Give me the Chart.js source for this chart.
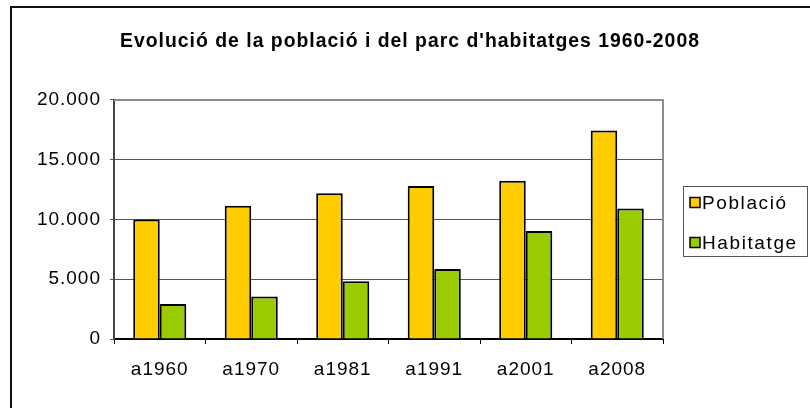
<!DOCTYPE html>
<html>
<head>
<meta charset="utf-8">
<script src="https://cdn.jsdelivr.net/npm/chart.js@4/dist/chart.umd.min.js"></script>
<style>
  html, body { margin: 0; padding: 0; background: #fff; }
  #wrap { width: 810px; height: 408px; position: relative; }
</style>
</head>
<body>
<div id="wrap"><canvas id="c" width="810" height="408"></canvas></div>
<script>
const categories = ['a1960', 'a1970', 'a1981', 'a1991', 'a2001', 'a2008'];
const poblacio = [10000, 11150, 12200, 12800, 13250, 17450];
const habitatge = [2930, 3550, 4830, 5860, 9040, 10930];
const seriesNames = ['Població', 'Habitatge'];
const titleText = "Evolució de la població i del parc d'habitatges 1960-2008";
const yTicks = [0, 5000, 10000, 15000, 20000];

const FONT = 'Arial, "Liberation Sans", sans-serif';
const SPACING = '1px';

function fmt(v) {
  return String(v).replace(/\B(?=(\d{3})+(?!\d))/g, '.');
}

const framePlugin = {
  id: 'framePlugin',
  beforeUpdate(chart) { chart.ctx.letterSpacing = SPACING; },
  beforeLayout(chart) { chart.ctx.letterSpacing = SPACING; },
  beforeDraw(chart) { chart.ctx.letterSpacing = SPACING; },
  beforeDatasetsDraw(chart) {
    const { ctx, chartArea: a } = chart;
    ctx.save();
    ctx.strokeStyle = '#8c8c8c';
    ctx.lineWidth = 2;
    ctx.beginPath();
    ctx.moveTo(a.left, a.top);
    ctx.lineTo(a.right, a.top);
    ctx.lineTo(a.right, a.bottom);
    ctx.stroke();
    ctx.restore();
  },
  afterDraw(chart) {
    const { ctx } = chart;
    ctx.save();
    ctx.fillStyle = '#111';
    ctx.fillRect(10, 6, 800, 2);
    ctx.fillRect(10, 6, 2, 402);
    const lx = 683, ly = 186, lw = 124, lh = 70;
    ctx.strokeStyle = '#555';
    ctx.lineWidth = 1;
    ctx.strokeRect(lx + 0.5, ly + 0.5, lw, lh);
    ctx.font = '19px ' + FONT;
    ctx.letterSpacing = '1.6px';
    ctx.textBaseline = 'middle';
    ctx.textAlign = 'left';
    chart.data.datasets.forEach((ds, i) => {
      const cy = 202.5 + i * 40;
      ctx.fillStyle = ds.backgroundColor;
      ctx.fillRect(690, cy - 5, 10, 10);
      ctx.strokeStyle = '#000';
      ctx.lineWidth = 1.5;
      ctx.strokeRect(690, cy - 5, 10, 10);
      ctx.fillStyle = '#000';
      ctx.fillText(ds.label, 702, cy + 1);
    });
    ctx.restore();
  }
};

new Chart(document.getElementById('c'), {
  type: 'bar',
  data: {
    labels: categories,
    datasets: [
      { label: seriesNames[0], data: poblacio, backgroundColor: '#FFCC00', borderColor: '#000', borderWidth: 2, categoryPercentage: 0.58, barPercentage: 1.0 },
      { label: seriesNames[1], data: habitatge, backgroundColor: '#99CC00', borderColor: '#000', borderWidth: 2, categoryPercentage: 0.58, barPercentage: 1.0 }
    ]
  },
  options: {
    responsive: false,
    animation: false,
    events: [],
    layout: { padding: { left: 10, right: 0, top: 0, bottom: 0 } },
    plugins: {
      legend: { display: false },
      tooltip: { enabled: false },
      title: {
        display: true,
        text: titleText,
        color: '#000',
        font: { family: FONT, size: 19.4, weight: 'bold' },
        padding: { top: 30, bottom: 46.7 }
      }
    },
    scales: {
      x: {
        grid: { display: true, drawOnChartArea: false, drawTicks: true, tickLength: 5, color: '#000', tickColor: '#000', offset: true },
        border: { display: true, color: '#000', width: 2 },
        ticks: { color: '#000', font: { family: FONT, size: 19 }, padding: 14, maxRotation: 0, autoSkip: false },
        afterFit(s) { s.height = 69; }
      },
      y: {
        min: 0, max: 20000,
        afterBuildTicks(s) { s.ticks = yTicks.map(v => ({ value: v })); },
        grid: { color: '#555', tickColor: '#555', tickLength: 4, drawTicks: true },
        border: { display: true, color: '#444', width: 2 },
        ticks: { color: '#000', font: { family: FONT, size: 19 }, padding: 9, callback: v => fmt(v) },
        afterFit(s) { s.width = 104; }
      },
      yRight: {
        position: 'right',
        display: true,
        grid: { display: false, drawTicks: false },
        border: { display: false },
        ticks: { display: false },
        afterFit(s) { s.width = 147; }
      }
    }
  },
  plugins: [framePlugin]
});
</script>
</body>
</html>
